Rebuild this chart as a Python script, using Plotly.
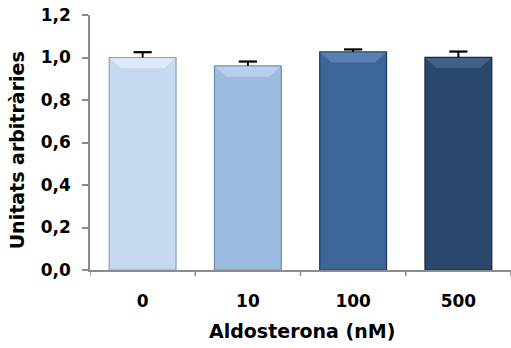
import plotly.graph_objects as go

# Aldosterone concentrations (nM) and relative expression
categories = ["0", "10", "100", "500"]
values = [1.0, 0.961, 1.026, 1.001]
errors = [0.025, 0.02, 0.012, 0.027]
bar_colors = ["#C6D9F1", "#9DBCE2", "#3C6698", "#2B476B"]
bevel_colors = ["#E2EDFA", "#C2D7F1", "#6289BC", "#4A6A92"]
edge_colors = ["#8E9FB5", "#6F8DB4", "#1F3A5E", "#16283F"]
y_ticks = [0.0, 0.2, 0.4, 0.6, 0.8, 1.0, 1.2]

font_family = "DejaVu Sans"
bargap = 0.365

fig = go.Figure()
fig.add_trace(go.Bar(
    x=list(range(len(categories))),
    y=values,
    marker=dict(color=bar_colors, line=dict(color=edge_colors, width=1.2)),
    hoverinfo="y",
))

# lighter bevel along the top of each bar
half = (1 - bargap) / 2
inset_x, inset_y = 0.11, 0.05
for i, (v, col) in enumerate(zip(values, bevel_colors)):
    path = (f"M {i - half + 0.006},{v - 0.003} L {i + half - 0.006},{v - 0.003} "
            f"L {i + half - inset_x},{v - inset_y} L {i - half + inset_x},{v - inset_y} Z")
    fig.add_shape(type="path", path=path, xref="x", yref="y",
                  fillcolor=col, opacity=0.75, line=dict(width=0), layer="above")

# upper half of the error bars only: a stem from the bar top plus a cap
stem_x, stem_y = [], []
for i, (v, e) in enumerate(zip(values, errors)):
    stem_x += [i, i, None]
    stem_y += [v, v + e, None]
fig.add_trace(go.Scatter(
    x=stem_x, y=stem_y, mode="lines",
    line=dict(color="black", width=2), hoverinfo="skip",
))
fig.add_trace(go.Scatter(
    x=list(range(len(categories))), y=[v + e for v, e in zip(values, errors)],
    mode="markers",
    marker=dict(symbol="line-ew", size=13, line=dict(color="black", width=2.2)),
    hoverinfo="skip",
))

fig.update_layout(
    width=511, height=348,
    margin=dict(l=90, r=0, t=15, b=78),
    paper_bgcolor="white", plot_bgcolor="white",
    separators=",.",
    bargap=bargap,
    showlegend=False,
    font=dict(family=font_family, size=17, color="black"),
)

fig.update_yaxes(
    range=[0, 1.2], tickvals=y_ticks, tickformat=".1f",
    showgrid=False, zeroline=False,
    showline=True, linecolor="#8C8C8C", linewidth=1.5,
    ticks="outside", ticklen=6, tickcolor="#8C8C8C", tickwidth=1.5,
    ticklabelstandoff=8,
    tickfont=dict(family=font_family, size=17, weight="bold"),
)
fig.update_xaxes(
    range=[-0.5, 3.5],
    tickvals=list(range(len(categories))), ticktext=categories,
    showgrid=False, zeroline=False,
    showline=True, linecolor="#8C8C8C", linewidth=1.5,
    ticks="", ticklabelstandoff=15,
    tickfont=dict(family=font_family, size=17, weight="bold"),
)
# category boundary ticks on the x axis
for b in [k - 0.5 for k in range(len(categories) + 1)]:
    fig.add_shape(type="line", xref="x", yref="paper", x0=b, x1=b, y0=0, y1=-0.024,
                  line=dict(color="#8C8C8C", width=1.5))

# axis titles
fig.add_annotation(
    text="Unitats arbitràries", textangle=-90,
    xref="paper", yref="paper", x=-0.173, y=0.47,
    xanchor="center", yanchor="middle", showarrow=False,
    font=dict(family=font_family, size=19, weight="bold"),
)
fig.add_annotation(
    text="Aldosterona (nM)",
    xref="paper", yref="paper", x=0.504, y=-0.239,
    xanchor="center", yanchor="middle", showarrow=False,
    font=dict(family=font_family, size=19, weight="bold"),
)

fig.write_html("out.html")
